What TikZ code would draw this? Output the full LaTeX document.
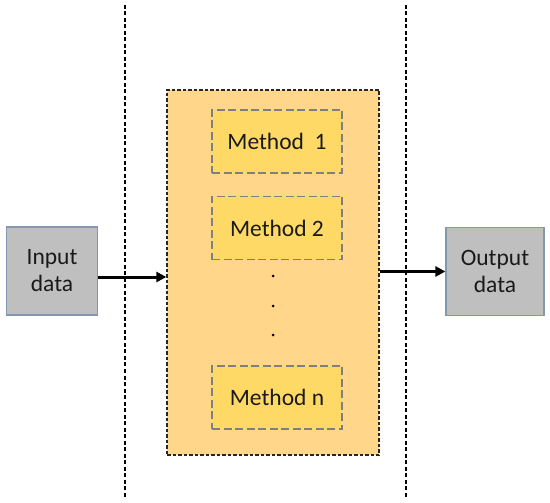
\documentclass[tikz,border=0pt]{standalone}
\usepackage{fontspec}
\setmainfont{Carlito}
\usetikzlibrary{arrows.meta}
\definecolor{bigfill}{HTML}{FFD68A}
\definecolor{methfill}{HTML}{FFD966}
\definecolor{methline}{HTML}{7F7F7F}
\definecolor{grayfill}{HTML}{BFBFBF}
\definecolor{grayline}{HTML}{8497B0}
\definecolor{txt}{HTML}{1A1A1A}
\tikzset{
  sep/.style={draw=black, line width=1.2pt, dash pattern=on 4pt off 2.5pt},
  bigbox/.style={draw=black!85, fill=bigfill, line width=1.3pt, dash pattern=on 3.5pt off 2pt, minimum width=212pt, minimum height=365pt, inner sep=0pt},
  methbox/.style={draw=methline, fill=methfill, line width=1.2pt, dash pattern=on 8pt off 3.5pt, minimum width=130pt, minimum height=63pt, inner sep=0pt, text=txt, font=\fontsize{23.5}{27}\selectfont},
  iobox/.style={draw=grayline, fill=grayfill, line width=1.2pt, minimum width=91pt, minimum height=88pt, inner sep=0pt, align=center, text=txt, font=\fontsize{23.5}{27}\selectfont},
  flow/.style={line width=3pt, -{Triangle[length=10pt,width=10pt]}},
  dotn/.style={circle, fill=black, inner sep=0pt, minimum size=3pt}
}
\begin{document}
\begin{tikzpicture}[x=1pt,y=-1pt]
\useasboundingbox (0,0) rectangle (550,503);
\coordinate (l1) at (125,5);
\coordinate (l2) at (125,498);
\coordinate (r1) at (406,5);
\coordinate (r2) at (406,498);
\draw[sep] (l1) -- (l2);
\draw[sep] (r1) -- (r2);
\node[bigbox] (big) at (273,272.5) {};
\node[methbox] (m1) at (277,141.5) {Method\ \ 1};
\node[methbox] (m2) at (277,228) {Method 2};
\node[methbox] (mn) at (277,397.5) {Method n};
\node[dotn] (d1) at (273,276) {};
\node[dotn] (d2) at (273,306) {};
\node[dotn] (d3) at (273,335) {};
\node[iobox] (in) at (52,271) {Input\\data};
\node[iobox, minimum width=98pt] (out) at (495,271.5) {Output\\data};
\draw[flow] ([yshift=-6pt]in.east) -- ([yshift=-6pt]in.east -| big.west);
\draw[flow] (big.east |- out.west) -- (out.west);
\end{tikzpicture}
\end{document}
